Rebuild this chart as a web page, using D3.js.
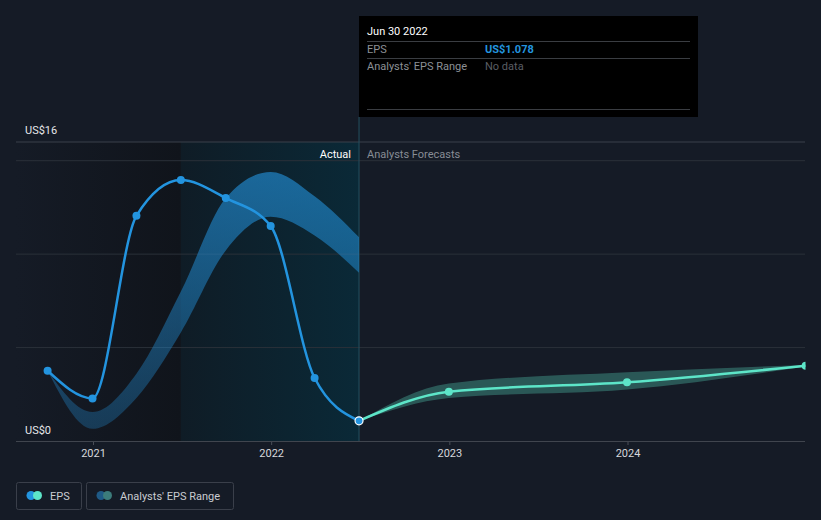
<!DOCTYPE html>
<html><head><meta charset="utf-8">
<script src="https://cdn.jsdelivr.net/npm/d3@7/dist/d3.min.js"></script>
<style>
html,body{margin:0;padding:0;background:#151b26;}
svg{display:block;font-family:Roboto, "Noto Sans", sans-serif;}
</style></head><body>
<svg id="c" width="821" height="520"></svg>
<script>
// ---- data ----
const epsDates = ["2020-09-30","2020-12-31","2021-03-31","2021-06-30","2021-09-30","2021-12-31","2022-03-31","2022-06-30"];
const epsValues = [3.76, 2.28, 12.05, 13.96, 13.0, 11.5, 3.37, 1.078];
const pastRangeUpper = [3.76, 1.55, 3.6, 8.0, 13.0, 14.4, 13.1, 10.9];
const pastRangeLower = [3.76, 0.65, 2.3, 5.8, 10.2, 12.0, 11.0, 9.0];
const fcDates = ["2022-06-30","2022-12-31","2023-12-31","2024-12-31"];
const fcValues = [1.078, 2.64, 3.14, 4.03];
const fcUpper = [1.078, 3.08, 3.68, 4.07];
const fcLower = [1.078, 2.30, 2.75, 3.98];
const xTickLabels = ["2021","2022","2023","2024"];
const yTickLabels = ["US$0","US$16"];
const gridValues = [5, 10, 15];

const parse = d3.timeParse("%Y-%m-%d");
const svg = d3.select("#c");
const x = d3.scaleTime().domain([new Date(2021,0,1), new Date(2024,0,1)]).range([93, 627.5]);
const y = d3.scaleLinear().domain([0,16]).range([441,142]);
const L = 16, R = 805;

const defs = svg.append("defs");
const g1 = defs.append("linearGradient").attr("id","pastBg").attr("x1","0").attr("x2","1").attr("y1","0").attr("y2","0");
g1.append("stop").attr("offset","0").attr("stop-color","#151b26");
g1.append("stop").attr("offset","1").attr("stop-color","#10141b");
const g2 = defs.append("linearGradient").attr("id","recentBg").attr("x1","0").attr("x2","1").attr("y1","0").attr("y2","0");
g2.append("stop").attr("offset","0").attr("stop-color","#0f1c26");
g2.append("stop").attr("offset","1").attr("stop-color","#0a2937");
const g3 = defs.append("linearGradient").attr("id","bandG").attr("gradientUnits","userSpaceOnUse").attr("x1",0).attr("x2",0).attr("y1",165).attr("y2",430);
g3.append("stop").attr("offset","0").attr("stop-color","#2394df").attr("stop-opacity",0.62);
g3.append("stop").attr("offset","1").attr("stop-color","#2394df").attr("stop-opacity",0.28);
defs.append("clipPath").attr("id","clip").append("rect").attr("x",L).attr("y",100).attr("width",R-L+0.5).attr("height",345);

const dStart = parse("2021-06-30"), dNow = parse("2022-06-30");
// backgrounds
svg.append("rect").attr("x",L).attr("y",142).attr("width",x(dStart)-L).attr("height",441-142).attr("fill","url(#pastBg)");
svg.append("rect").attr("x",x(dStart)).attr("y",142).attr("width",x(dNow)-x(dStart)).attr("height",441-142).attr("fill","url(#recentBg)");

// grid
svg.append("line").attr("x1",L).attr("x2",R).attr("y1",y(16)).attr("y2",y(16)).attr("stroke","#3b404a").attr("stroke-width",1);
svg.selectAll(".grid").data(gridValues).join("line")
  .attr("x1",L).attr("x2",R).attr("y1",d=>y(d)).attr("y2",d=>y(d)).attr("stroke","#2a3039").attr("stroke-width",1);

// x axis
const xAxis = d3.axisBottom(x).tickValues(xTickLabels.map(t=>new Date(+t,0,1))).tickFormat((d,i)=>xTickLabels[i]).tickSize(4).tickPadding(4);
const ax = svg.append("g").attr("transform","translate(0,441)").call(xAxis);
ax.select(".domain").remove();
ax.selectAll(".tick line").attr("stroke","#4a4f58");
ax.selectAll(".tick text").attr("fill","#d6d8dc").attr("font-size",11).attr("font-family","Roboto");
svg.append("line").attr("x1",L).attr("x2",R).attr("y1",441.5).attr("y2",441.5).attr("stroke","#40454e");

// y labels
svg.selectAll(".ylab").data(yTickLabels).join("text")
  .attr("x",25).attr("y",(d,i)=> i===0 ? y(0)-7 : y(16)-8)
  .attr("fill","#e6e7ea").attr("font-size",11).text(d=>d);

// hover line
svg.append("line").attr("x1",x(dNow)).attr("x2",x(dNow)).attr("y1",117).attr("y2",441).attr("stroke","#24505f").attr("stroke-width",1);

// labels
svg.append("text").attr("x",x(dNow)-8).attr("y",158).attr("text-anchor","end").attr("fill","#ffffff").attr("font-size",11).text("Actual");
svg.append("text").attr("x",x(dNow)+8).attr("y",158).attr("fill","#878c95").attr("font-size",11).text("Analysts Forecasts");

const plot = svg.append("g").attr("clip-path","url(#clip)");
const curve = d3.curveMonotoneX;

// past range band
const pastBand = epsDates.map((d,i)=>({d:parse(d),u:pastRangeUpper[i],l:pastRangeLower[i]}));
plot.append("path").datum(pastBand)
  .attr("d", d3.area().x(d=>x(d.d)).y0(d=>y(d.l)).y1(d=>y(d.u)).curve(curve))
  .attr("fill","url(#bandG)");

// forecast band
const fcBand = fcDates.map((d,i)=>({d:parse(d),u:fcUpper[i],l:fcLower[i]}));
plot.append("path").datum(fcBand)
  .attr("d", d3.area().x(d=>x(d.d)).y0(d=>y(d.l)).y1(d=>y(d.u)).curve(curve))
  .attr("fill","#5de5c8").attr("fill-opacity",0.3);

// eps line
const eps = epsDates.map((d,i)=>({d:parse(d),v:epsValues[i]}));
const line = d3.line().x(d=>x(d.d)).y(d=>y(d.v)).curve(curve);
plot.append("path").datum(eps).attr("d",line).attr("fill","none").attr("stroke","#2394df").attr("stroke-width",2.5);
const fc = fcDates.map((d,i)=>({d:parse(d),v:fcValues[i]}));
plot.append("path").datum(fc).attr("d",line).attr("fill","none").attr("stroke","#5de5c8").attr("stroke-width",2.5);

plot.selectAll(".ep").data(eps.slice(0,-1)).join("circle")
  .attr("cx",d=>x(d.d)).attr("cy",d=>y(d.v)).attr("r",4).attr("fill","#2394df");
plot.selectAll(".fp").data(fc.slice(1)).join("circle")
  .attr("cx",d=>x(d.d)).attr("cy",d=>y(d.v)).attr("r",4).attr("fill","#5de5c8");
const last = eps[eps.length-1];
plot.append("circle").attr("cx",x(last.d)).attr("cy",y(last.v)).attr("r",4).attr("fill","#2394df").attr("stroke","#ffffff").attr("stroke-width",1.2);

// tooltip
const tt = svg.append("g");
tt.append("rect").attr("x",359).attr("y",16).attr("width",339).attr("height",101).attr("fill","#000000");
tt.append("text").attr("x",367).attr("y",35).attr("fill","#ffffff").attr("font-size",11).text("Jun 30 2022");
[41.5,58.5,109.5].forEach(yy=>tt.append("line").attr("x1",367).attr("x2",690).attr("y1",yy).attr("y2",yy).attr("stroke","#3a3d42"));
tt.append("text").attr("x",367).attr("y",53).attr("fill","#8c9096").attr("font-size",11).text("EPS");
tt.append("text").attr("x",485).attr("y",53).attr("fill","#2394df").attr("font-size",11).attr("font-weight","bold").text("US$" + epsValues[epsValues.length-1].toFixed(3));
tt.append("text").attr("x",367).attr("y",70).attr("fill","#8c9096").attr("font-size",11).text("Analysts' EPS Range");
tt.append("text").attr("x",485).attr("y",70).attr("fill","#5a5e64").attr("font-size",11).text("No data");

// legend
const lg = svg.append("g");
lg.append("rect").attr("x",16.5).attr("y",482.5).attr("width",65).attr("height",27).attr("rx",2).attr("fill","none").attr("stroke","#3a3f4a");
lg.append("circle").attr("cx",31).attr("cy",495.5).attr("r",4.5).attr("fill","#2394df");
lg.append("circle").attr("cx",37.5).attr("cy",495.5).attr("r",4.5).attr("fill","#5de5c8");
lg.append("text").attr("x",50).attr("y",499.5).attr("fill","#c9ccd1").attr("font-size",11).text("EPS");
lg.append("rect").attr("x",86.5).attr("y",482.5).attr("width",147).attr("height",27).attr("rx",2).attr("fill","none").attr("stroke","#3a3f4a");
lg.append("circle").attr("cx",101).attr("cy",495.5).attr("r",4.5).attr("fill","#1f5a86");
lg.append("circle").attr("cx",107.5).attr("cy",495.5).attr("r",4.5).attr("fill","#3c7c7b");
lg.append("text").attr("x",120).attr("y",499.5).attr("fill","#c9ccd1").attr("font-size",11).text("Analysts' EPS Range");
</script></body></html>
